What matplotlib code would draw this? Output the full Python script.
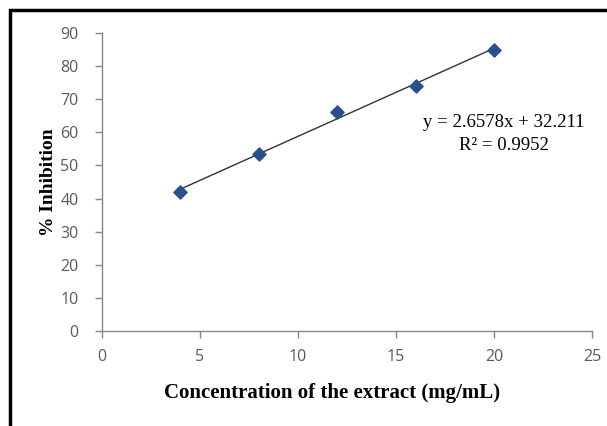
import matplotlib.pyplot as plt
import numpy as np
from matplotlib.patches import Rectangle

plt.rcParams['font.family'] = 'serif'
plt.rcParams['font.serif'] = ['Liberation Serif', 'DejaVu Serif']

# data
concentration = np.array([4, 8, 12, 16, 20])
inhibition = np.array([42.0, 53.5, 66.0, 74.0, 85.0])

# trendline from the equation shown
slope = 2.6578
intercept = 32.211
r_squared = 0.9952

xticks = [0, 5, 10, 15, 20, 25]
yticks = [0, 10, 20, 30, 40, 50, 60, 70, 80, 90]

fig = plt.figure(figsize=(6.07, 4.26), dpi=100)
ax = fig.add_axes([102/607, 1 - 331/426, (592-102)/607, (331-33)/426])

# thick frame around the chart (runs off the right and bottom)
fig.patches.append(Rectangle((9.5/607, -0.1), 1.2, 1 - 9.5/426 + 0.1,
                             transform=fig.transFigure, fill=False,
                             edgecolor='black', linewidth=2.5))

axis_grey = '#868686'
ax.plot(concentration, slope*concentration + intercept, color='#333333', lw=1.0, zorder=2)
ax.scatter(concentration, inhibition, marker='D', s=45, color='#27508C', zorder=3)

ax.set_xlim(0, 25)
ax.set_ylim(0, 90)
ax.set_xticks(xticks)
ax.set_yticks(yticks)
for s in ['top', 'right']:
    ax.spines[s].set_visible(False)
for s in ['left', 'bottom']:
    ax.spines[s].set_color(axis_grey)
    ax.spines[s].set_linewidth(1.0)
ax.tick_params(colors=axis_grey, length=5, width=1.0, labelcolor='#5a5a5a')
ax.tick_params(axis='y', pad=12)
ax.tick_params(axis='x', pad=8)
for lab in ax.get_xticklabels() + ax.get_yticklabels():
    lab.set_family('Open Sans')
    lab.set_fontsize(11.5)

ax.set_xlabel('Concentration of the extract (mg/mL)', fontsize=15, fontweight='bold')
ax.xaxis.set_label_coords(0.47, -0.175)
ax.set_ylabel('% Inhibition', fontsize=14, fontweight='bold', labelpad=2)

ax.text(20.5, 63, 'y = %.4fx + %.3f' % (slope, intercept), fontsize=13.5, ha='center', va='center')
ax.text(20.5, 56, 'R² = %.4f' % r_squared, fontsize=13.5, ha='center', va='center')

fig.savefig('out.png', dpi=100)
